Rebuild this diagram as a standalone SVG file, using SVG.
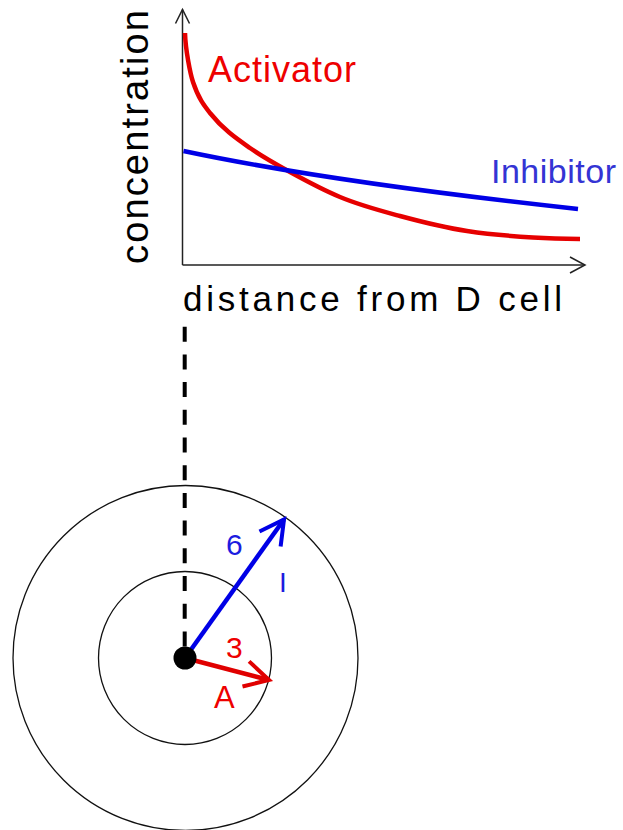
<svg xmlns="http://www.w3.org/2000/svg" width="623" height="830" viewBox="0 0 623 830">
<style>
  .axis{fill:none;stroke:#222;stroke-width:1.5}
  .ring{fill:none;stroke:#111;stroke-width:1.3}
  .lbl{font-family:"Liberation Sans",Arial,sans-serif}
  .red{fill:#ee0000}
  .blue{fill:#1c1ce0}
</style>
<defs>
  <marker id="mRed" markerUnits="userSpaceOnUse" markerWidth="40" markerHeight="40" refX="0" refY="0" viewBox="-30 -20 40 40" orient="auto" overflow="visible">
    <path d="M-24,-13 L0,0 L-24,13" fill="none" stroke="#e00000" stroke-width="4" stroke-linecap="butt" stroke-linejoin="miter"/>
  </marker>
  <marker id="mBlue" markerUnits="userSpaceOnUse" markerWidth="40" markerHeight="40" refX="0" refY="0" viewBox="-30 -20 40 40" orient="auto" overflow="visible">
    <path d="M-24,-13 L0,0 L-24,13" fill="none" stroke="#0000e6" stroke-width="4" stroke-linecap="butt" stroke-linejoin="miter"/>
  </marker>
</defs>
<rect width="623" height="830" fill="#fff"/>

<g id="graph">
  <g id="axes">
    <path class="axis" d="M182.5,265 V9.5"/>
    <path class="axis" d="M175.5,23.5 L182.5,9.5 L189.5,23.5"/>
    <path class="axis" d="M182.5,265 H585"/>
    <path class="axis" d="M570,257 L585,265 L570,273"/>
  </g>
  <g id="curve-activator">
    <path fill="none" stroke="#e60000" stroke-width="4.5" d="M185,33 C185.5,50 190.33,74 193,82 C198.67,99 204.33,105.9 210,113 C223.33,129.67 236.67,138.67 250,148 C263.33,157.33 276.67,164.67 290,172 C306.67,181.17 323.33,190 340,197 C360,205.4 380,210.6 400,216 C422.33,222.03 444.67,227.65 467,231 C489,234.3 511,236.18 533,237.5 C548.67,238.44 564.33,238.84 580,239"/>
  </g>
  <g id="curve-inhibitor">
    <path fill="none" stroke="#0000e6" stroke-width="4.5" d="M183.5,151 Q330,182 578,209"/>
  </g>
  <g id="label-concentration">
    <text class="lbl" x="0" y="0" font-size="38" fill="#000" transform="translate(148,264) rotate(-90)" textLength="254" lengthAdjust="spacing">concentration</text>
  </g>
  <g id="label-distance">
    <text class="lbl" x="183" y="311" font-size="35" fill="#000" textLength="379" lengthAdjust="spacing">distance from D cell</text>
  </g>
  <g id="label-activator">
    <text class="lbl red" x="208" y="82" font-size="36" textLength="148" lengthAdjust="spacing">Activator</text>
  </g>
  <g id="label-inhibitor">
    <text class="lbl" x="491" y="183" font-size="34" fill="#3434d4" textLength="125" lengthAdjust="spacing">Inhibitor</text>
  </g>
</g>

<g id="cell-diagram">
  <g id="outer-ring"><circle class="ring" cx="185.5" cy="658" r="172.5"/></g>
  <g id="inner-ring"><circle class="ring" cx="185" cy="658" r="86.5"/></g>
</g>

<g id="connectors">
  <line x1="184.7" y1="326.7" x2="184.7" y2="648" stroke="#000" stroke-width="4" stroke-dasharray="15 12.7"/>
  <line x1="185" y1="658" x2="284" y2="519.5" stroke="#0000e6" stroke-width="4.5" marker-end="url(#mBlue)"/>
  <line x1="185" y1="658" x2="269" y2="680" stroke="#e00000" stroke-width="4.5" marker-end="url(#mRed)"/>
</g>

<g id="d-cell"><circle cx="185" cy="658" r="11.5" fill="#000"/></g>

<g id="arrow-labels">
  <text class="lbl blue" x="226" y="555" font-size="30">6</text>
  <text class="lbl blue" x="279" y="592" font-size="28">I</text>
  <text class="lbl red" x="226" y="658" font-size="30">3</text>
  <text class="lbl red" x="214" y="708" font-size="31">A</text>
</g>
</svg>
